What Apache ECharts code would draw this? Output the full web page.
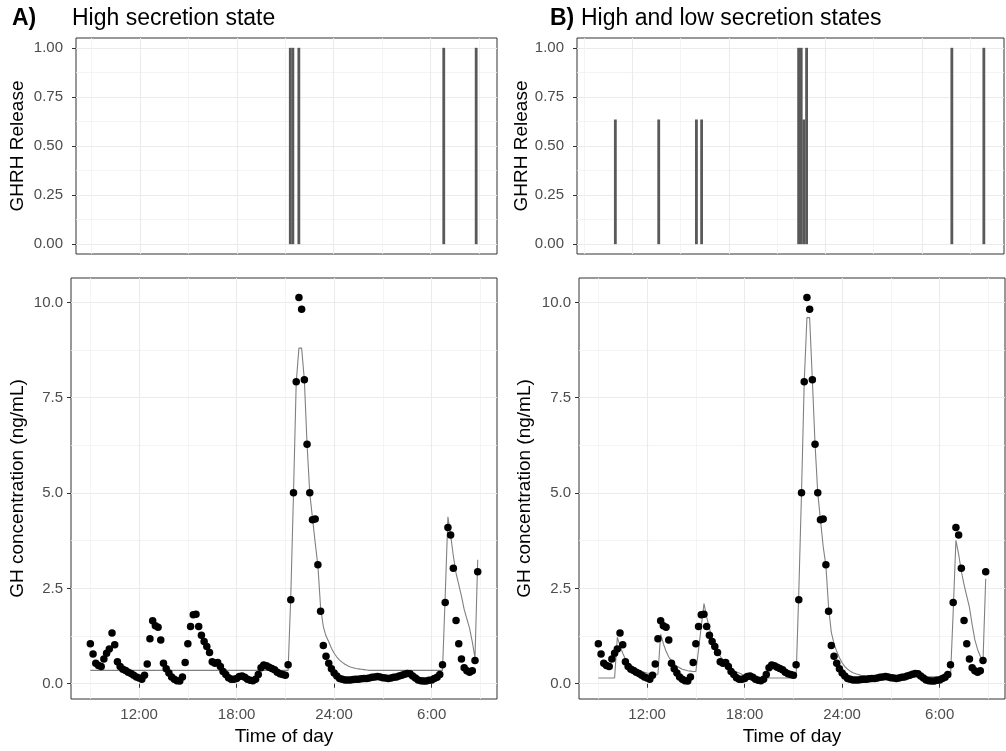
<!DOCTYPE html>
<html><head><meta charset="utf-8">
<script src="https://cdn.jsdelivr.net/npm/echarts@6/dist/echarts.min.js"></script>
<style>html,body{margin:0;padding:0;background:#fff}#c{width:1006px;height:751px}</style>
</head><body><div id="c"></div>
<script>
// ---- sampling grid (10-minute samples starting 09:00, hours continue past 24) ----
const sampleStartHour = 9;
const sampleStepHours = 1 / 6;

// ---- observed GH concentration (ng/mL), one row per hour 9..32 ----
const ghObserved = [
  1.05, 0.78, 0.54, 0.48, 0.45, 0.65,
  0.80, 0.91, 1.33, 1.02, 0.58, 0.45,
  0.38, 0.35, 0.30, 0.27, 0.22, 0.18,
  0.15, 0.12, 0.22, 0.52, 1.18, 1.65,
  1.52, 1.48, 1.15, 0.54, 0.39, 0.28,
  0.18, 0.12, 0.08, 0.07, 0.18, 0.56,
  1.05, 1.50, 1.81, 1.82, 1.50, 1.27,
  1.11, 0.98, 0.82, 0.58, 0.54, 0.56,
  0.45, 0.32, 0.24, 0.16, 0.12, 0.12,
  0.14, 0.19, 0.20, 0.17, 0.12, 0.09,
  0.08, 0.12, 0.24, 0.42, 0.49, 0.47,
  0.43, 0.40, 0.37, 0.30, 0.26, 0.24,
  0.22, 0.50, 2.20, 5.01, 7.92, 10.13,
  9.82, 7.97, 6.28, 5.01, 4.30, 4.32,
  3.12, 1.90, 1.00, 0.72, 0.54, 0.39,
  0.28, 0.20, 0.14, 0.12, 0.10, 0.10,
  0.10, 0.11, 0.12, 0.12, 0.13, 0.14,
  0.14, 0.15, 0.17, 0.18, 0.19, 0.18,
  0.16, 0.15, 0.14, 0.15, 0.17, 0.18,
  0.20, 0.22, 0.25, 0.27, 0.26, 0.20,
  0.15, 0.10, 0.08, 0.07, 0.07, 0.09,
  0.10, 0.14, 0.17, 0.24, 0.50, 2.13,
  4.10, 3.90, 3.03, 1.66, 1.05, 0.65,
  0.42, 0.34, 0.30, 0.34, 0.61, 2.94
];

// ---- model fit, high secretion state only ----
const ghFitHigh = [
  0.35, 0.35, 0.35, 0.35, 0.35, 0.35,
  0.35, 0.35, 0.35, 0.35, 0.35, 0.35,
  0.35, 0.35, 0.35, 0.35, 0.35, 0.35,
  0.35, 0.35, 0.35, 0.35, 0.35, 0.35,
  0.35, 0.35, 0.35, 0.35, 0.35, 0.35,
  0.35, 0.35, 0.35, 0.35, 0.35, 0.35,
  0.35, 0.35, 0.35, 0.35, 0.35, 0.35,
  0.35, 0.35, 0.35, 0.35, 0.35, 0.35,
  0.35, 0.35, 0.35, 0.35, 0.35, 0.35,
  0.35, 0.35, 0.35, 0.35, 0.35, 0.35,
  0.35, 0.35, 0.35, 0.35, 0.35, 0.35,
  0.35, 0.35, 0.35, 0.35, 0.35, 0.35,
  0.35, 0.35, 2.30, 5.00, 7.90, 8.80,
  8.80, 7.97, 6.28, 5.00, 4.35, 3.70,
  3.10, 2.00, 1.50, 1.25, 1.10, 0.93,
  0.80, 0.70, 0.62, 0.56, 0.51, 0.47,
  0.44, 0.42, 0.40, 0.39, 0.38, 0.37,
  0.36, 0.35, 0.35, 0.35, 0.35, 0.35,
  0.35, 0.35, 0.35, 0.35, 0.35, 0.35,
  0.35, 0.35, 0.35, 0.35, 0.35, 0.35,
  0.35, 0.35, 0.35, 0.35, 0.35, 0.35,
  0.35, 0.35, 0.35, 0.35, 0.35, 2.30,
  4.38, 3.90, 3.35, 2.90, 2.60, 2.30,
  1.95, 1.70, 1.45, 1.10, 0.68, 3.25
];

// ---- model fit, high and low secretion states ----
const ghFitHighLow = [
  0.15, 0.15, 0.15, 0.15, 0.15, 0.15,
  0.15, 1.22, 1.00, 0.80, 0.65, 0.55,
  0.48, 0.42, 0.38, 0.35, 0.32, 0.30,
  0.28, 0.27, 0.26, 0.25, 0.25, 1.30,
  1.05, 0.85, 0.70, 0.60, 0.52, 0.46,
  0.42, 0.38, 0.36, 0.34, 0.33, 0.32,
  0.32, 0.90, 1.50, 2.10, 1.75, 1.45,
  1.20, 1.00, 0.85, 0.72, 0.62, 0.53,
  0.46, 0.40, 0.35, 0.31, 0.28, 0.25,
  0.23, 0.21, 0.20, 0.19, 0.18, 0.17,
  0.16, 0.16, 0.16, 0.15, 0.15, 0.15,
  0.15, 0.15, 0.15, 0.15, 0.15, 0.15,
  0.15, 0.15, 2.40, 5.00, 7.90, 9.60,
  9.60, 7.97, 6.28, 5.00, 4.30, 3.60,
  3.10, 2.00, 1.35, 1.05, 0.85, 0.68,
  0.55, 0.45, 0.38, 0.33, 0.29, 0.26,
  0.24, 0.22, 0.21, 0.20, 0.19, 0.19,
  0.18, 0.18, 0.18, 0.18, 0.18, 0.18,
  0.18, 0.18, 0.18, 0.18, 0.18, 0.18,
  0.18, 0.18, 0.18, 0.18, 0.18, 0.18,
  0.18, 0.18, 0.18, 0.18, 0.18, 0.18,
  0.18, 0.18, 0.18, 0.18, 0.18, 1.90,
  3.76, 3.40, 2.95, 2.60, 2.30, 2.00,
  1.55, 1.15, 0.90, 0.72, 0.60, 2.75
];

// ---- GHRH release events (time in hours, release level) ----
const ghrhHighTimes = [21.31, 21.47, 21.84, 30.82, 32.83];
const ghrhHighValues = [1, 1, 1, 1, 1];
const ghrhHighLowTimes = [10.07, 12.74, 15.06, 15.38, 21.35, 21.51, 21.67, 21.84, 30.78, 32.75];
const ghrhHighLowValues = [0.635, 0.635, 0.635, 0.635, 1, 1, 0.635, 1, 1, 1];

// ---- ticks ----
const xMajorTicks = [12, 18, 24, 30];
const xTickLabels = ['12:00', '18:00', '24:00', '6:00'];
const xMinorTicks = [9, 15, 21, 27, 33];
const bTopMajorGrid = [11.12, 17.06, 23.0, 28.94];
const bTopMinorGrid = [8.18, 14.09, 20.02, 25.97, 31.92];
const yTopTicks = [0, 0.25, 0.5, 0.75, 1];
const yTopMinor = [0.125, 0.375, 0.625, 0.875];
const yBottomTicks = [0, 2.5, 5, 7.5, 10];
const yBottomMinor = [1.25, 3.75, 6.25, 8.75];

// ---- build ----
const FONT = 'Liberation Sans, Arial, Helvetica, sans-serif';
const times = ghObserved.map((_, i) => sampleStartHour + i * sampleStepHours);
const pairs = (xs, ys) => xs.map((x, i) => [x, ys[i]]);

const grids = [
  { left: 76, top: 38, width: 421, height: 216 },   // A top
  { left: 71, top: 278, width: 426, height: 421 },  // A bottom
  { left: 577, top: 38, width: 427, height: 216 },  // B top
  { left: 579, top: 278, width: 426, height: 421 }  // B bottom
].map(g => Object.assign(g, { show: true, borderColor: '#333333', borderWidth: 1, backgroundColor: '#ffffff', containLabel: false, outerBoundsMode: 'none' }));

const xRanges = [[8.03, 34.12], [7.81, 34.02], [7.71, 33.99], [7.81, 34.02]];
const yRanges = [[-0.05, 1.05], [-0.4, 10.64], [-0.05, 1.05], [-0.4, 10.64]];

const majorLine = { show: true, lineStyle: { color: '#ebebeb', width: 1.1 } };
const minorLine = { show: true, lineStyle: { color: '#f1f1f1', width: 0.8 } };
const labelStyle = { color: '#4d4d4d', fontSize: 15, fontFamily: FONT };

const xAxis = [];
const yAxis = [];
for (let g = 0; g < 4; g++) {
  const isBottom = g === 1 || g === 3;
  const majors = g === 2 ? bTopMajorGrid : xMajorTicks;
  xAxis.push({
    type: 'value', gridIndex: g, min: xRanges[g][0], max: xRanges[g][1], position: 'bottom',
    axisLine: { show: false },
    axisTick: { show: isBottom, customValues: majors, length: 4, lineStyle: { color: '#333333' } },
    axisLabel: { show: isBottom, customValues: majors, margin: 8, ...labelStyle,
      formatter: v => xTickLabels[xMajorTicks.indexOf(Math.round(v))] || '' },
    splitLine: majorLine,
    name: isBottom ? 'Time of day' : '', nameLocation: 'middle', nameGap: 28,
    nameTextStyle: { color: '#000', fontSize: 19, fontFamily: FONT }
  });
  const yt = isBottom ? yBottomTicks : yTopTicks;
  yAxis.push({
    type: 'value', gridIndex: g, min: yRanges[g][0], max: yRanges[g][1],
    axisLine: { show: false },
    axisTick: { show: true, customValues: yt, length: 4, lineStyle: { color: '#333333' } },
    axisLabel: { show: true, customValues: yt, margin: isBottom ? 8 : 13, ...labelStyle,
      formatter: v => isBottom ? v.toFixed(1) : v.toFixed(2) },
    splitLine: majorLine,
    name: isBottom ? 'GH concentration (ng/mL)' : 'GHRH Release',
    nameLocation: 'middle', nameGap: isBottom ? (g === 1 ? 44 : 45) : (g === 0 ? 49 : 43),
    nameTextStyle: { color: '#000', fontSize: 19, fontFamily: FONT }
  });
}
// minor grid axes
for (let g = 0; g < 4; g++) {
  const isBottom = g === 1 || g === 3;
  const minors = g === 2 ? bTopMinorGrid : xMinorTicks;
  xAxis.push({
    type: 'value', gridIndex: g, min: xRanges[g][0], max: xRanges[g][1], position: 'bottom',
    axisLine: { show: false }, axisTick: { show: false, customValues: minors },
    axisLabel: { show: false }, splitLine: minorLine
  });
  yAxis.push({
    type: 'value', gridIndex: g, min: yRanges[g][0], max: yRanges[g][1],
    axisLine: { show: false }, axisTick: { show: false, customValues: isBottom ? yBottomMinor : yTopMinor },
    axisLabel: { show: false }, splitLine: minorLine
  });
}

const barStyle = { color: '#595959' };
const dotStyle = { color: '#000000', opacity: 1 };
const series = [
  { type: 'bar', xAxisIndex: 0, yAxisIndex: 0, barWidth: 2.8, itemStyle: barStyle,
    data: pairs(ghrhHighTimes, ghrhHighValues), z: 3 },
  { type: 'line', xAxisIndex: 1, yAxisIndex: 1, showSymbol: false, symbol: 'none',
    lineStyle: { color: '#808080', width: 1.1 }, data: pairs(times, ghFitHigh), z: 3 },
  { type: 'scatter', xAxisIndex: 1, yAxisIndex: 1, symbolSize: 7.5, itemStyle: dotStyle,
    data: pairs(times, ghObserved), z: 4 },
  { type: 'bar', xAxisIndex: 2, yAxisIndex: 2, barWidth: 2.8, itemStyle: barStyle,
    data: pairs(ghrhHighLowTimes, ghrhHighLowValues), z: 3 },
  { type: 'line', xAxisIndex: 3, yAxisIndex: 3, showSymbol: false, symbol: 'none',
    lineStyle: { color: '#808080', width: 1.1 }, data: pairs(times, ghFitHighLow), z: 3 },
  { type: 'scatter', xAxisIndex: 3, yAxisIndex: 3, symbolSize: 7.5, itemStyle: dotStyle,
    data: pairs(times, ghObserved), z: 4 }
];

const titleText = (text, left, bold) => ({ text, left, top: 7, padding: 0,
  textStyle: { fontSize: 23, fontWeight: bold ? 'bold' : 'normal', color: '#000', fontFamily: FONT } });

const chart = echarts.init(document.getElementById('c'), null, { renderer: 'canvas', width: 1006, height: 751 });
chart.setOption({
  animation: false,
  backgroundColor: '#ffffff',
  title: [titleText('A)', 12, true), titleText('High secretion state', 72, false),
          titleText('B)', 550, true), titleText('High and low secretion states', 581, false)],
  grid: grids, xAxis, yAxis, series
});
</script></body></html>
